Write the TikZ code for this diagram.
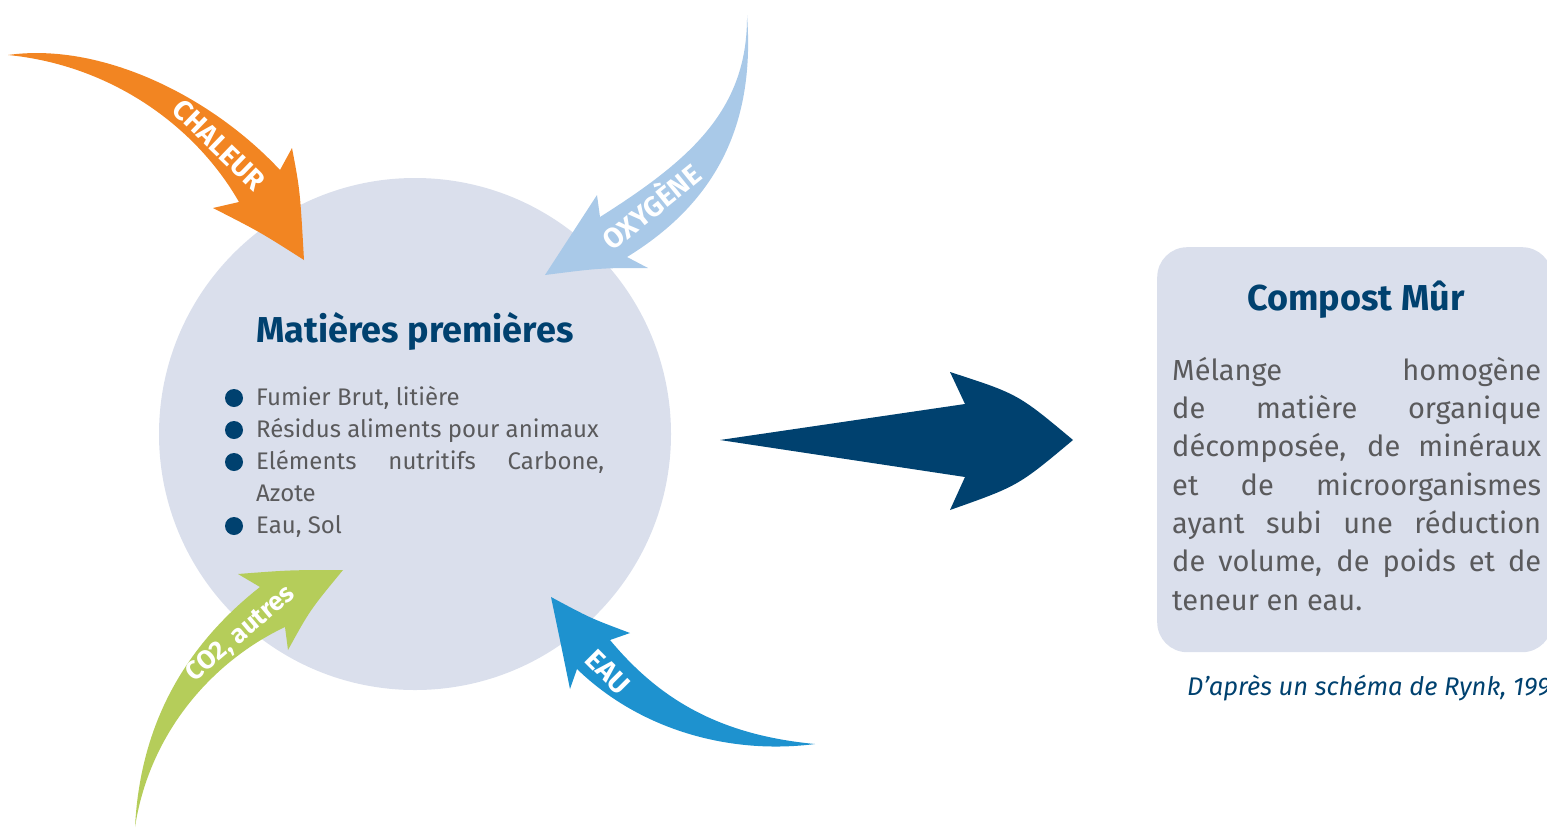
\documentclass[tikz,border=0pt]{standalone}
\usepackage{fontspec}
\setmainfont{Fira Sans}
\usepackage{xcolor}

\definecolor{pale}{HTML}{DADFEC}
\definecolor{navy}{HTML}{00416F}
\definecolor{txtgray}{HTML}{5A5A5C}
\definecolor{heat}{HTML}{F28522}
\definecolor{air}{HTML}{A9C9E8}
\definecolor{gas}{HTML}{B5CD5A}
\definecolor{water}{HTML}{1E92CF}

\begin{document}
\begin{tikzpicture}[
  x=1pt, y=-1pt,
  title/.style={font=\fontsize{36}{42}\selectfont\bfseries, text=navy, inner sep=0pt},
  body/.style={font=\fontsize{24}{32}\selectfont, text=txtgray, align=left, inner sep=0pt},
  boxtext/.style={font=\fontsize{29}{38.3}\selectfont, text=txtgray, align=left, inner sep=0pt},
  flow/.style={font=\fontsize{28}{32}\selectfont\bfseries, text=white, inner sep=0pt},
  bullet/.style={circle, fill=navy, minimum size=18pt, inner sep=0pt}
]
  \useasboundingbox (0,0) rectangle (1547,828);

  % raw materials
  \node[circle, fill=pale, minimum size=512pt, inner sep=0pt] (raw) at (415,434) {};
  \node[title, anchor=base] (raw-title) at (415,342) {Matières premières};
  % base of a multi-line node = last line
  \node[body, anchor=base west] (raw-list) at (256,533) {Fumier Brut, litière\\
    Résidus aliments pour animaux\\
    \makebox[348pt][s]{Eléments nutritifs Carbone,}\\
    Azote\\
    Eau, Sol};
  \foreach \y [count=\i] in {398,430,462,526}
  \node[bullet] (dot-\i) at (234,\y) {};

  % inputs and outputs
  \fill[heat] (8,55) .. controls (100,42) and (210,95) .. (280,170) -- (292,148)
  .. controls (300,190) .. (304,260) .. controls (260,232) .. (213,208) -- (239,202)
  .. controls (195,125) and (110,65) .. (8,55) -- cycle;
  \fill[air] (747,15) .. controls (748,110) and (690,160) .. (600,217) -- (597,195)
  -- (545,275) .. controls (600,268) .. (648,268) -- (627,257)
  .. controls (720,200) and (755,120) .. (747,15) -- cycle;
  \fill[gas] (135,827) .. controls (140,730) and (180,650) .. (260,587) -- (238,574)
  .. controls (290,570) .. (343,570) .. controls (310,610) .. (288,650) -- (285,627)
  .. controls (215,660) and (150,730) .. (135,827) -- cycle;
  \fill[water] (815,744) .. controls (720,735) and (660,700) .. (610,640) -- (630,633)
  .. controls (590,618) .. (551,597) .. controls (560,640) .. (570,689) -- (577,669)
  .. controls (640,730) and (730,755) .. (815,744) -- cycle;

  \node[flow, rotate=-44] (heat-label) at (219,145) {CHALEUR};
  \node[flow, rotate=39] (air-label) at (650,205) {OXYGÈNE};
  \node[flow, rotate=40, font=\fontsize{26}{30}\selectfont\bfseries] (gas-label) at (241,634) {CO2, autres};
  \node[flow, rotate=-45] (water-label) at (608,672) {EAU};

  % main arrow
  \fill[navy] (720,440) -- (965,404) -- (950,372) .. controls (1018,394) .. (1073,440)
  .. controls (1018,486) .. (950,510) -- (965,477) -- cycle;

  % mature compost
  \node[fill=pale, rounded corners=30pt, minimum width=395pt, minimum height=405pt,
    anchor=north west] (mur) at (1157,247) {};
  \node[title, anchor=base] (mur-title) at (1356,310) {Compost Mûr};
  \node[boxtext, anchor=base west] (mur-text) at (1172,610) {%
    \makebox[369pt][s]{Mélange homogène}\\
    \makebox[369pt][s]{de matière organique}\\
    \makebox[369pt][s]{décomposée, de minéraux}\\
    \makebox[369pt][s]{et de microorganismes}\\
    \makebox[369pt][s]{ayant subi une réduction}\\
    \makebox[369pt][s]{de volume, de poids et de}\\
    teneur en eau.};
  \node[font=\fontsize{25.5}{30}\selectfont\itshape, text=navy, inner sep=0pt,
    anchor=base west] (source) at (1187,695) {D’après un schéma de Rynk, 1992};
\end{tikzpicture}
\end{document}
